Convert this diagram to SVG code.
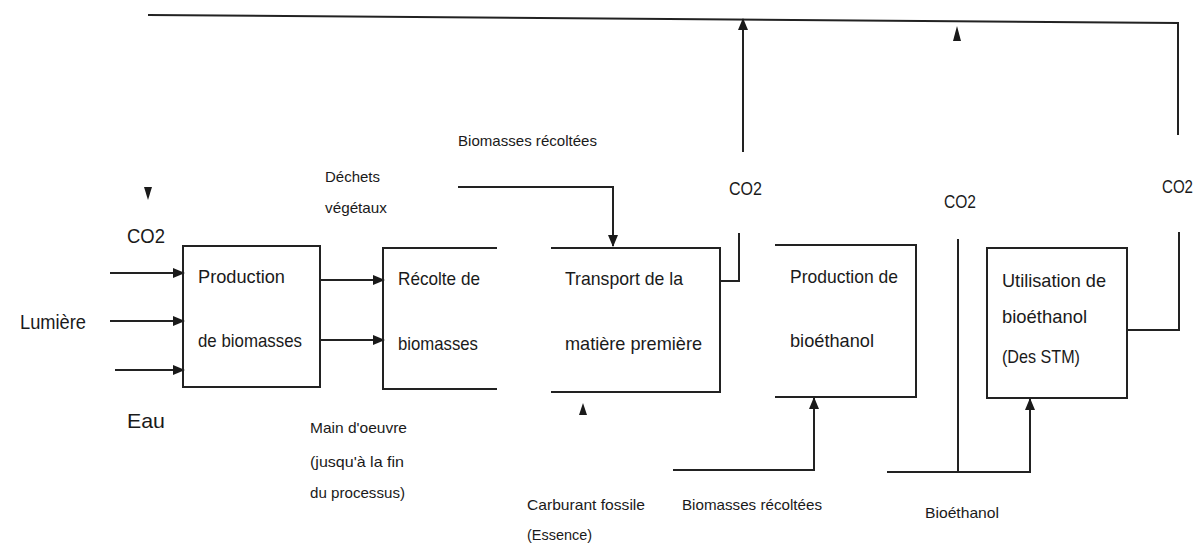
<svg xmlns="http://www.w3.org/2000/svg" width="1199" height="543" viewBox="0 0 1199 543">
<defs>
<marker id="ah" viewBox="0 0 12 10" refX="11" refY="5" markerWidth="12" markerHeight="10" markerUnits="userSpaceOnUse" orient="auto">
<path d="M0,0 L12,5 L0,10 z" fill="#1a1a1a"/>
</marker>
<style>
.ln{fill:none;stroke:#222;stroke-width:2}
.bx{fill:none;stroke:#222;stroke-width:2}
.tip{fill:#1a1a1a}
text{font-family:"Liberation Sans Narrow","Liberation Sans",Arial,sans-serif;fill:#1a1a1a}
.b{font-size:19px}
.s{font-size:15px}
.c{font-size:18px}
.l{font-size:21px}
</style>
</defs>
<g id="connectors">
<path class="ln" d="M148,15 L1178,23 L1178,135"/>
<path class="ln" d="M743,152 L743,19" marker-end="url(#ah)"/>
<polygon class="tip" points="957,26 953,41 961,41"/>
<polygon class="tip" points="144,187 152,187 148,200"/>
<polygon class="tip" points="583,403 579,415 587,415"/>
<path class="ln" d="M721,281 L739,281 L739,233"/>
<path class="ln" d="M1127,330 L1179,330 L1179,232"/>
<path class="ln" d="M458,187 L613,187 L613,246" marker-end="url(#ah)"/>
<path class="ln" d="M110,273 L184,273" marker-end="url(#ah)"/>
<path class="ln" d="M110,321 L184,321" marker-end="url(#ah)"/>
<path class="ln" d="M115,370 L184,370" marker-end="url(#ah)"/>
<path class="ln" d="M320,280 L384,280" marker-end="url(#ah)"/>
<path class="ln" d="M320,340 L384,340" marker-end="url(#ah)"/>
<path class="ln" d="M673,470 L814,470 L814,398" marker-end="url(#ah)"/>
<path class="ln" d="M887,472 L1030,472 L1030,399" marker-end="url(#ah)"/>
<path class="ln" d="M958,472 L958,239"/>
</g>
<g id="labels">
<text class="l" x="127" y="243" textLength="38" lengthAdjust="spacingAndGlyphs">CO2</text>
<text class="l" x="20" y="329" textLength="66" lengthAdjust="spacingAndGlyphs">Lumière</text>
<text class="l" x="127" y="428" textLength="38" lengthAdjust="spacingAndGlyphs">Eau</text>
<text class="s" x="325" y="182" textLength="55" lengthAdjust="spacingAndGlyphs">Déchets</text>
<text class="s" x="325" y="213" textLength="62" lengthAdjust="spacingAndGlyphs">végétaux</text>
<text class="s" x="458" y="146" textLength="139" lengthAdjust="spacingAndGlyphs">Biomasses récoltées</text>
<text class="c" x="729" y="195" textLength="33" lengthAdjust="spacingAndGlyphs">CO2</text>
<text class="c" x="944" y="208" textLength="32" lengthAdjust="spacingAndGlyphs">CO2</text>
<text class="c" x="1162" y="193" textLength="31" lengthAdjust="spacingAndGlyphs">CO2</text>
<text class="s" x="310" y="433" textLength="97" lengthAdjust="spacingAndGlyphs">Main d'oeuvre</text>
<text class="s" x="310" y="467" textLength="94" lengthAdjust="spacingAndGlyphs">(jusqu'à la fin</text>
<text class="s" x="310" y="498" textLength="95" lengthAdjust="spacingAndGlyphs">du processus)</text>
<text class="s" x="527" y="510" textLength="118" lengthAdjust="spacingAndGlyphs">Carburant fossile</text>
<text class="s" x="527" y="540" textLength="65" lengthAdjust="spacingAndGlyphs">(Essence)</text>
<text class="s" x="682" y="510" textLength="140" lengthAdjust="spacingAndGlyphs">Biomasses récoltées</text>
<text class="s" x="925" y="518" textLength="74" lengthAdjust="spacingAndGlyphs">Bioéthanol</text>
</g>
<g id="node-production-biomasses">
<rect class="bx" x="183" y="246" width="137" height="141"/>
<text class="b" x="198" y="283" textLength="87" lengthAdjust="spacingAndGlyphs">Production</text>
<text class="b" x="198" y="347" textLength="104" lengthAdjust="spacingAndGlyphs">de biomasses</text>
</g>
<g id="node-recolte">
<path class="bx" d="M497,248 H383 V389 H497"/>
<text class="b" x="398" y="285" textLength="82" lengthAdjust="spacingAndGlyphs">Récolte de</text>
<text class="b" x="398" y="350" textLength="80" lengthAdjust="spacingAndGlyphs">biomasses</text>
</g>
<g id="node-transport">
<path class="bx" d="M551,248 H720 V392 H551"/>
<text class="b" x="565" y="285" textLength="118" lengthAdjust="spacingAndGlyphs">Transport de la</text>
<text class="b" x="565" y="350" textLength="137" lengthAdjust="spacingAndGlyphs">matière première</text>
</g>
<g id="node-production-bioethanol">
<path class="bx" d="M775,245 H916 V397 H775"/>
<text class="b" x="790" y="283" textLength="108" lengthAdjust="spacingAndGlyphs">Production de</text>
<text class="b" x="790" y="347" textLength="84" lengthAdjust="spacingAndGlyphs">bioéthanol</text>
</g>
<g id="node-utilisation">
<rect class="bx" x="987" y="248" width="140" height="150"/>
<text class="b" x="1002" y="287" textLength="104" lengthAdjust="spacingAndGlyphs">Utilisation de</text>
<text class="b" x="1002" y="323" textLength="85" lengthAdjust="spacingAndGlyphs">bioéthanol</text>
<text class="b" x="1002" y="363" textLength="78" lengthAdjust="spacingAndGlyphs">(Des STM)</text>
</g>
</svg>
